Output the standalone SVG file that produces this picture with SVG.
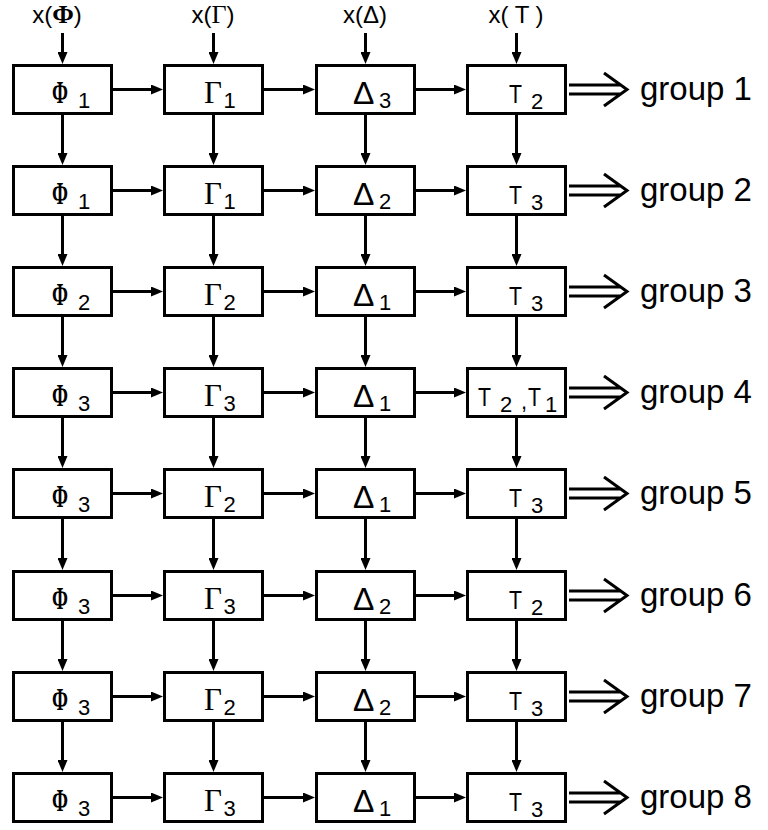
<svg xmlns="http://www.w3.org/2000/svg" width="768" height="830" viewBox="0 0 768 830">
<style>
  .box { fill: #fff; stroke: #000; stroke-width: 3; }
  .arr { stroke: #000; stroke-width: 3; fill: none; marker-end: url(#head); }
  .dbl { stroke: #000; stroke-width: 3; fill: none; }
  .lbl { font-family: "Liberation Sans", Arial, sans-serif; font-size: 22px; }
  .phi { font-family: "Liberation Serif", serif; font-size: 31px; font-weight: bold; }
  .gam { font-family: "Liberation Serif", serif; font-size: 31px; }
  .del { font-family: "Liberation Sans", Arial, sans-serif; font-size: 32px; }
  .tau { font-family: "Liberation Sans", Arial, sans-serif; font-size: 26px; }
  .top { font-family: "Liberation Sans", Arial, sans-serif; font-size: 24px; text-anchor: middle; }
  .grp { font-family: "Liberation Sans", Arial, sans-serif; font-size: 33px; }
</style>
<defs>
  <marker id="head" viewBox="0 0 12 10" refX="6" refY="5" markerWidth="12" markerHeight="10" markerUnits="userSpaceOnUse" orient="auto">
    <path d="M0,0 L12,5 L0,10 z" fill="#000"/>
  </marker>
</defs>
<rect width="768" height="830" fill="#fff"/>

<!-- column inputs -->
<g id="inputs">
  <text class="top" x="57" y="23">x(<tspan font-family="Liberation Serif, serif" font-weight="bold" font-size="26">Φ</tspan>)</text>
  <text class="top" x="213" y="23">x(<tspan font-family="Liberation Serif, serif" font-size="26">Γ</tspan>)</text>
  <text class="top" x="365" y="23">x(Δ)</text>
  <text class="top" x="516" y="23">x( T )</text>
</g>

<!-- connectors -->
<g id="connectors">
  <!-- inputs into first row -->
  <line class="arr" x1="62.5" y1="33" x2="62.5" y2="58"/>
  <line class="arr" x1="213.5" y1="33" x2="213.5" y2="58"/>
  <line class="arr" x1="365.5" y1="33" x2="365.5" y2="58"/>
  <line class="arr" x1="516.5" y1="33" x2="516.5" y2="58"/>
  <!-- horizontal flow per row -->
  <line class="arr" x1="113" y1="89.5" x2="157" y2="89.5"/><line class="arr" x1="264" y1="89.5" x2="309" y2="89.5"/><line class="arr" x1="416" y1="89.5" x2="460" y2="89.5"/>
  <line class="arr" x1="113" y1="190.5" x2="157" y2="190.5"/><line class="arr" x1="264" y1="190.5" x2="309" y2="190.5"/><line class="arr" x1="416" y1="190.5" x2="460" y2="190.5"/>
  <line class="arr" x1="113" y1="291.5" x2="157" y2="291.5"/><line class="arr" x1="264" y1="291.5" x2="309" y2="291.5"/><line class="arr" x1="416" y1="291.5" x2="460" y2="291.5"/>
  <line class="arr" x1="113" y1="392.5" x2="157" y2="392.5"/><line class="arr" x1="264" y1="392.5" x2="309" y2="392.5"/><line class="arr" x1="416" y1="392.5" x2="460" y2="392.5"/>
  <line class="arr" x1="113" y1="493.5" x2="157" y2="493.5"/><line class="arr" x1="264" y1="493.5" x2="309" y2="493.5"/><line class="arr" x1="416" y1="493.5" x2="460" y2="493.5"/>
  <line class="arr" x1="113" y1="595.5" x2="157" y2="595.5"/><line class="arr" x1="264" y1="595.5" x2="309" y2="595.5"/><line class="arr" x1="416" y1="595.5" x2="460" y2="595.5"/>
  <line class="arr" x1="113" y1="696.5" x2="157" y2="696.5"/><line class="arr" x1="264" y1="696.5" x2="309" y2="696.5"/><line class="arr" x1="416" y1="696.5" x2="460" y2="696.5"/>
  <line class="arr" x1="113" y1="797.5" x2="157" y2="797.5"/><line class="arr" x1="264" y1="797.5" x2="309" y2="797.5"/><line class="arr" x1="416" y1="797.5" x2="460" y2="797.5"/>
  <!-- vertical flow between rows -->
  <g id="vflow">
    <line class="arr" x1="62.5" y1="115" x2="62.5" y2="159"/><line class="arr" x1="213.5" y1="115" x2="213.5" y2="159"/><line class="arr" x1="365.5" y1="115" x2="365.5" y2="159"/><line class="arr" x1="516.5" y1="115" x2="516.5" y2="159"/>
    <line class="arr" x1="62.5" y1="216" x2="62.5" y2="260"/><line class="arr" x1="213.5" y1="216" x2="213.5" y2="260"/><line class="arr" x1="365.5" y1="216" x2="365.5" y2="260"/><line class="arr" x1="516.5" y1="216" x2="516.5" y2="260"/>
    <line class="arr" x1="62.5" y1="317" x2="62.5" y2="361"/><line class="arr" x1="213.5" y1="317" x2="213.5" y2="361"/><line class="arr" x1="365.5" y1="317" x2="365.5" y2="361"/><line class="arr" x1="516.5" y1="317" x2="516.5" y2="361"/>
    <line class="arr" x1="62.5" y1="418" x2="62.5" y2="462"/><line class="arr" x1="213.5" y1="418" x2="213.5" y2="462"/><line class="arr" x1="365.5" y1="418" x2="365.5" y2="462"/><line class="arr" x1="516.5" y1="418" x2="516.5" y2="462"/>
    <line class="arr" x1="62.5" y1="519" x2="62.5" y2="564"/><line class="arr" x1="213.5" y1="519" x2="213.5" y2="564"/><line class="arr" x1="365.5" y1="519" x2="365.5" y2="564"/><line class="arr" x1="516.5" y1="519" x2="516.5" y2="564"/>
    <line class="arr" x1="62.5" y1="621" x2="62.5" y2="665"/><line class="arr" x1="213.5" y1="621" x2="213.5" y2="665"/><line class="arr" x1="365.5" y1="621" x2="365.5" y2="665"/><line class="arr" x1="516.5" y1="621" x2="516.5" y2="665"/>
    <line class="arr" x1="62.5" y1="722" x2="62.5" y2="766"/><line class="arr" x1="213.5" y1="722" x2="213.5" y2="766"/><line class="arr" x1="365.5" y1="722" x2="365.5" y2="766"/><line class="arr" x1="516.5" y1="722" x2="516.5" y2="766"/>
  </g>
  <!-- double output arrows -->
  <g id="outputs">
    <path class="dbl" d="M569,85 H621 M569,94 H621 M604,73 L627,89.5 L604,106"/>
    <path class="dbl" d="M569,186 H621 M569,195 H621 M604,174 L627,190.5 L604,207"/>
    <path class="dbl" d="M569,287 H621 M569,296 H621 M604,275 L627,291.5 L604,308"/>
    <path class="dbl" d="M569,388 H621 M569,397 H621 M604,376 L627,392.5 L604,409"/>
    <path class="dbl" d="M569,489 H621 M569,498 H621 M604,477 L627,493.5 L604,510"/>
    <path class="dbl" d="M569,591 H621 M569,600 H621 M604,579 L627,595.5 L604,612"/>
    <path class="dbl" d="M569,692 H621 M569,701 H621 M604,680 L627,696.5 L604,713"/>
    <path class="dbl" d="M569,793 H621 M569,802 H621 M604,781 L627,797.5 L604,814"/>
  </g>
</g>

<!-- row 1 -->
<g id="r1c1"><rect class="box" x="13.5" y="65.5" width="98" height="48"/><text class="lbl"><tspan class="phi" x="52" y="103" textLength="16" lengthAdjust="spacingAndGlyphs">Φ</tspan><tspan x="78" y="108">1</tspan></text></g>
<g id="r1c2"><rect class="box" x="164.5" y="65.5" width="98" height="48"/><text class="lbl"><tspan class="gam" x="204" y="103">Γ</tspan><tspan x="223.5" y="108">1</tspan></text></g>
<g id="r1c3"><rect class="box" x="316.5" y="65.5" width="98" height="48"/><text class="lbl"><tspan class="del" x="353" y="104">Δ</tspan><tspan x="379" y="108">3</tspan></text></g>
<g id="r1c4"><rect class="box" x="467.5" y="65.5" width="98" height="48"/><text class="lbl"><tspan class="tau" x="509" y="103" textLength="13" lengthAdjust="spacingAndGlyphs">T</tspan><tspan x="531" y="109">2</tspan></text></g>
<text id="g1" class="grp" x="640" y="100">group 1</text>

<!-- row 2 -->
<g id="r2c1"><rect class="box" x="13.5" y="166.5" width="98" height="48"/><text class="lbl"><tspan class="phi" x="52" y="204" textLength="16" lengthAdjust="spacingAndGlyphs">Φ</tspan><tspan x="78" y="209">1</tspan></text></g>
<g id="r2c2"><rect class="box" x="164.5" y="166.5" width="98" height="48"/><text class="lbl"><tspan class="gam" x="204" y="204">Γ</tspan><tspan x="223.5" y="209">1</tspan></text></g>
<g id="r2c3"><rect class="box" x="316.5" y="166.5" width="98" height="48"/><text class="lbl"><tspan class="del" x="353" y="205">Δ</tspan><tspan x="379" y="209">2</tspan></text></g>
<g id="r2c4"><rect class="box" x="467.5" y="166.5" width="98" height="48"/><text class="lbl"><tspan class="tau" x="509" y="204" textLength="13" lengthAdjust="spacingAndGlyphs">T</tspan><tspan x="531" y="210">3</tspan></text></g>
<text id="g2" class="grp" x="640" y="201">group 2</text>

<!-- row 3 -->
<g id="r3c1"><rect class="box" x="13.5" y="267.5" width="98" height="48"/><text class="lbl"><tspan class="phi" x="52" y="305" textLength="16" lengthAdjust="spacingAndGlyphs">Φ</tspan><tspan x="78" y="310">2</tspan></text></g>
<g id="r3c2"><rect class="box" x="164.5" y="267.5" width="98" height="48"/><text class="lbl"><tspan class="gam" x="204" y="305">Γ</tspan><tspan x="223.5" y="310">2</tspan></text></g>
<g id="r3c3"><rect class="box" x="316.5" y="267.5" width="98" height="48"/><text class="lbl"><tspan class="del" x="353" y="306">Δ</tspan><tspan x="379" y="310">1</tspan></text></g>
<g id="r3c4"><rect class="box" x="467.5" y="267.5" width="98" height="48"/><text class="lbl"><tspan class="tau" x="509" y="305" textLength="13" lengthAdjust="spacingAndGlyphs">T</tspan><tspan x="531" y="311">3</tspan></text></g>
<text id="g3" class="grp" x="640" y="302">group 3</text>

<!-- row 4 -->
<g id="r4c1"><rect class="box" x="13.5" y="368.5" width="98" height="48"/><text class="lbl"><tspan class="phi" x="52" y="406" textLength="16" lengthAdjust="spacingAndGlyphs">Φ</tspan><tspan x="78" y="411">3</tspan></text></g>
<g id="r4c2"><rect class="box" x="164.5" y="368.5" width="98" height="48"/><text class="lbl"><tspan class="gam" x="204" y="406">Γ</tspan><tspan x="223.5" y="411">3</tspan></text></g>
<g id="r4c3"><rect class="box" x="316.5" y="368.5" width="98" height="48"/><text class="lbl"><tspan class="del" x="353" y="407">Δ</tspan><tspan x="379" y="411">1</tspan></text></g>
<g id="r4c4"><rect class="box" x="467.5" y="368.5" width="98" height="48"/><text class="lbl"><tspan class="tau" x="478" y="406" textLength="13" lengthAdjust="spacingAndGlyphs">T</tspan><tspan x="500" y="412">2</tspan><tspan x="521" y="409">,</tspan><tspan class="tau" x="528" y="406" textLength="13" lengthAdjust="spacingAndGlyphs">T</tspan><tspan x="545" y="412">1</tspan></text></g>
<text id="g4" class="grp" x="640" y="403">group 4</text>

<!-- row 5 -->
<g id="r5c1"><rect class="box" x="13.5" y="469.5" width="98" height="48"/><text class="lbl"><tspan class="phi" x="52" y="507" textLength="16" lengthAdjust="spacingAndGlyphs">Φ</tspan><tspan x="78" y="512">3</tspan></text></g>
<g id="r5c2"><rect class="box" x="164.5" y="469.5" width="98" height="48"/><text class="lbl"><tspan class="gam" x="204" y="507">Γ</tspan><tspan x="223.5" y="512">2</tspan></text></g>
<g id="r5c3"><rect class="box" x="316.5" y="469.5" width="98" height="48"/><text class="lbl"><tspan class="del" x="353" y="508">Δ</tspan><tspan x="379" y="512">1</tspan></text></g>
<g id="r5c4"><rect class="box" x="467.5" y="469.5" width="98" height="48"/><text class="lbl"><tspan class="tau" x="509" y="507" textLength="13" lengthAdjust="spacingAndGlyphs">T</tspan><tspan x="531" y="513">3</tspan></text></g>
<text id="g5" class="grp" x="640" y="504">group 5</text>

<!-- row 6 -->
<g id="r6c1"><rect class="box" x="13.5" y="571.5" width="98" height="48"/><text class="lbl"><tspan class="phi" x="52" y="609" textLength="16" lengthAdjust="spacingAndGlyphs">Φ</tspan><tspan x="78" y="614">3</tspan></text></g>
<g id="r6c2"><rect class="box" x="164.5" y="571.5" width="98" height="48"/><text class="lbl"><tspan class="gam" x="204" y="609">Γ</tspan><tspan x="223.5" y="614">3</tspan></text></g>
<g id="r6c3"><rect class="box" x="316.5" y="571.5" width="98" height="48"/><text class="lbl"><tspan class="del" x="353" y="610">Δ</tspan><tspan x="379" y="614">2</tspan></text></g>
<g id="r6c4"><rect class="box" x="467.5" y="571.5" width="98" height="48"/><text class="lbl"><tspan class="tau" x="509" y="609" textLength="13" lengthAdjust="spacingAndGlyphs">T</tspan><tspan x="531" y="615">2</tspan></text></g>
<text id="g6" class="grp" x="640" y="606">group 6</text>

<!-- row 7 -->
<g id="r7c1"><rect class="box" x="13.5" y="672.5" width="98" height="48"/><text class="lbl"><tspan class="phi" x="52" y="710" textLength="16" lengthAdjust="spacingAndGlyphs">Φ</tspan><tspan x="78" y="715">3</tspan></text></g>
<g id="r7c2"><rect class="box" x="164.5" y="672.5" width="98" height="48"/><text class="lbl"><tspan class="gam" x="204" y="710">Γ</tspan><tspan x="223.5" y="715">2</tspan></text></g>
<g id="r7c3"><rect class="box" x="316.5" y="672.5" width="98" height="48"/><text class="lbl"><tspan class="del" x="353" y="711">Δ</tspan><tspan x="379" y="715">2</tspan></text></g>
<g id="r7c4"><rect class="box" x="467.5" y="672.5" width="98" height="48"/><text class="lbl"><tspan class="tau" x="509" y="710" textLength="13" lengthAdjust="spacingAndGlyphs">T</tspan><tspan x="531" y="716">3</tspan></text></g>
<text id="g7" class="grp" x="640" y="707">group 7</text>

<!-- row 8 -->
<g id="r8c1"><rect class="box" x="13.5" y="773.5" width="98" height="48"/><text class="lbl"><tspan class="phi" x="52" y="811" textLength="16" lengthAdjust="spacingAndGlyphs">Φ</tspan><tspan x="78" y="816">3</tspan></text></g>
<g id="r8c2"><rect class="box" x="164.5" y="773.5" width="98" height="48"/><text class="lbl"><tspan class="gam" x="204" y="811">Γ</tspan><tspan x="223.5" y="816">3</tspan></text></g>
<g id="r8c3"><rect class="box" x="316.5" y="773.5" width="98" height="48"/><text class="lbl"><tspan class="del" x="353" y="812">Δ</tspan><tspan x="379" y="816">1</tspan></text></g>
<g id="r8c4"><rect class="box" x="467.5" y="773.5" width="98" height="48"/><text class="lbl"><tspan class="tau" x="509" y="811" textLength="13" lengthAdjust="spacingAndGlyphs">T</tspan><tspan x="531" y="817">3</tspan></text></g>
<text id="g8" class="grp" x="640" y="808">group 8</text>
</svg>
